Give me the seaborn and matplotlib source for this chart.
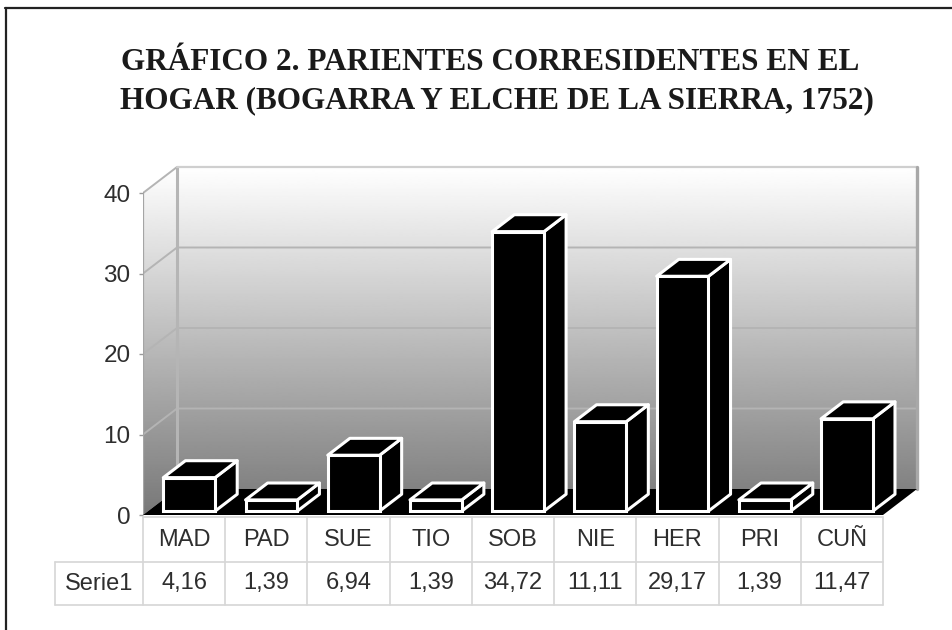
import matplotlib
matplotlib.use("Agg")
import matplotlib.pyplot as plt
from matplotlib.patches import Polygon
from matplotlib.lines import Line2D
import seaborn as sns
import pandas as pd
import numpy as np

sns.set_style("white")
plt.rcParams['font.family'] = ['Liberation Sans', 'DejaVu Sans']

# data
categories = ['MAD', 'PAD', 'SUE', 'TIO', 'SOB', 'NIE', 'HER', 'PRI', 'CUÑ']
values = [4.16, 1.39, 6.94, 1.39, 34.72, 11.11, 29.17, 1.39, 11.47]
series_name = 'Serie1'
yticks = [0, 10, 20, 30, 40]
title_lines = ['GRÁFICO 2. PARIENTES CORRESIDENTES EN EL',
               'HOGAR (BOGARRA Y ELCHE DE LA SIERRA, 1752)']

df = pd.DataFrame({'cat': categories, 'val': values})

W, H = 953, 630
fig = plt.figure(figsize=(W / 100, H / 100), dpi=100)

# pixel layout of the front axis
x_left_px, x_right_px = 143, 883      # front edge, category -0.5 .. 8.5
y0_px, y40_px = 515, 193              # value 0 and 40 on the front edge
px_x = (x_right_px - x_left_px) / 9.0
px_y = (y0_px - y40_px) / 40.0
DX = 34 / px_x                        # depth in data units
DY = 26 / px_y
xlim = (-0.5, 8.5 + DX + 0.1)
ylim = (0, 40 + DY + 0.3)
ax_l = x_left_px
ax_r = x_left_px + (xlim[1] - xlim[0]) * px_x
ax_t = y0_px - ylim[1] * px_y
ax = fig.add_axes([ax_l / W, (H - y0_px) / H, (ax_r - ax_l) / W, (y0_px - ax_t) / H])


def ypx(p):
    return (y0_px - p) / px_y


def xpx(p):
    return (p - x_left_px) / px_x - 0.5


sns.barplot(data=df, x='cat', y='val', color='black', saturation=1, width=0.63,
            edgecolor='white', linewidth=2.2, ax=ax, zorder=5)
bars = list(ax.patches)

# walls with vertical gradient
wall = Polygon([(-0.5, 0), (-0.5, 40), (-0.5 + DX, 40 + DY), (8.5 + DX, 40 + DY),
                (8.5 + DX, DY), (-0.5 + DX, DY)], closed=True, facecolor='none',
               edgecolor='none', transform=ax.transData)
ax.add_patch(wall)
grad = np.linspace(0.47, 1.0, 256).reshape(-1, 1)
img = ax.imshow(grad, cmap='gray', vmin=0, vmax=1, origin='lower', aspect='auto',
                extent=(-0.5, 8.5 + DX, 0, 40 + DY), zorder=0, interpolation='bilinear')
img.set_clip_path(wall)

# gridlines
for v in yticks[1:]:
    ax.plot([-0.5, -0.5 + DX, 8.5 + DX], [v, v + DY, v + DY], color='#b4b4b4', lw=1.4, zorder=1,
            solid_capstyle='butt')
# wall edges
ax.plot([-0.5, -0.5], [0, 40], color='#a5a5a5', lw=1.6, zorder=2)
ax.plot([-0.5 + DX, -0.5 + DX], [DY, 40 + DY], color='#b5b5b5', lw=2.2, zorder=2)
ax.plot([-0.5 + DX, 8.5 + DX], [40 + DY, 40 + DY], color='#cfcfcf', lw=1.6, zorder=2)
ax.plot([8.5 + DX, 8.5 + DX], [DY, 40 + DY], color='#a8a8a8', lw=2.4, zorder=2)

# floor
ax.add_patch(Polygon([(-0.5, 0), (8.5, 0), (8.5 + DX, DY), (-0.5 + DX, DY)], closed=True,
                     facecolor='black', edgecolor='none', zorder=3))

# 3D bars from the seaborn patches
F0, F1 = 0.15, 0.8
d = F1 - F0
for p in bars:
    x0 = p.get_x() + F0 * DX
    y0 = F0 * DY
    w = p.get_width()
    h = p.get_height()
    p.set_x(x0)
    p.set_y(y0)
    side = [(x0 + w, y0), (x0 + w, y0 + h), (x0 + w + d * DX, y0 + h + d * DY),
            (x0 + w + d * DX, y0 + d * DY)]
    top = [(x0, y0 + h), (x0 + w, y0 + h), (x0 + w + d * DX, y0 + h + d * DY),
           (x0 + d * DX, y0 + h + d * DY)]
    for poly in (side, top):
        ax.add_patch(Polygon(poly, closed=True, facecolor='black', edgecolor='white',
                             lw=2.2, joinstyle='round', zorder=4))

ax.set_xlim(*xlim)
ax.set_ylim(*ylim)
ax.set_xticks([])
ax.set_xlabel('')
ax.set_ylabel('')
ax.set_yticks(yticks)
ax.set_yticklabels([str(t) for t in yticks])
ax.tick_params(axis='y', length=3, width=1, color='#9a9a9a', pad=6, labelsize=17.5,
               labelcolor='#2e2e2e', left=True)
for s in ax.spines.values():
    s.set_visible(False)
ax.set_facecolor('none')
ax.grid(False)

# data table below the chart
gc = '#d6d6d6'
tc = '#2e2e2e'
x_ser = xpx(55)
ya, yb, yc = ypx(517), ypx(562), ypx(605)
ax.plot([-0.5, 8.5], [ya, ya], color=gc, lw=1.2, clip_on=False)
ax.plot([x_ser, 8.5], [yb, yb], color=gc, lw=1.2, clip_on=False)
ax.plot([x_ser, 8.5], [yc, yc], color=gc, lw=1.2, clip_on=False)
ax.plot([x_ser, x_ser], [yb, yc], color=gc, lw=1.2, clip_on=False)
for i in range(10):
    ax.plot([i - 0.5, i - 0.5], [ya, yc], color=gc, lw=1.2, clip_on=False)
for i, (c, v) in enumerate(zip(categories, values)):
    ax.text(i, (ya + yb) / 2, c, ha='center', va='center', fontsize=17, color=tc,
            clip_on=False)
    ax.text(i, (yb + yc) / 2, f'{v:.2f}'.replace('.', ','), ha='center', va='center',
            fontsize=17, color=tc, clip_on=False)
ax.text((x_ser - 0.5) / 2, (yb + yc) / 2, series_name, ha='center', va='center',
        fontsize=17, color=tc, clip_on=False)

# title
fig.text(490 / W, 1 - 63 / H, title_lines[0], ha='center', va='center', fontsize=22.5,
         fontweight='bold', family=['Liberation Serif', 'DejaVu Serif'], color='#1a1a1a')
fig.text(497 / W, 1 - 101 / H, title_lines[1], ha='center', va='center', fontsize=22.5,
         fontweight='bold', family=['Liberation Serif', 'DejaVu Serif'], color='#1a1a1a')

# frame
fig.add_artist(Line2D([5 / W, 1], [1 - 8 / H, 1 - 8 / H], color='#222222', lw=1.6))
fig.add_artist(Line2D([6 / W, 6 / W], [1 - 8 / H, 0], color='#222222', lw=1.6))

fig.savefig('out.png', dpi=100)
